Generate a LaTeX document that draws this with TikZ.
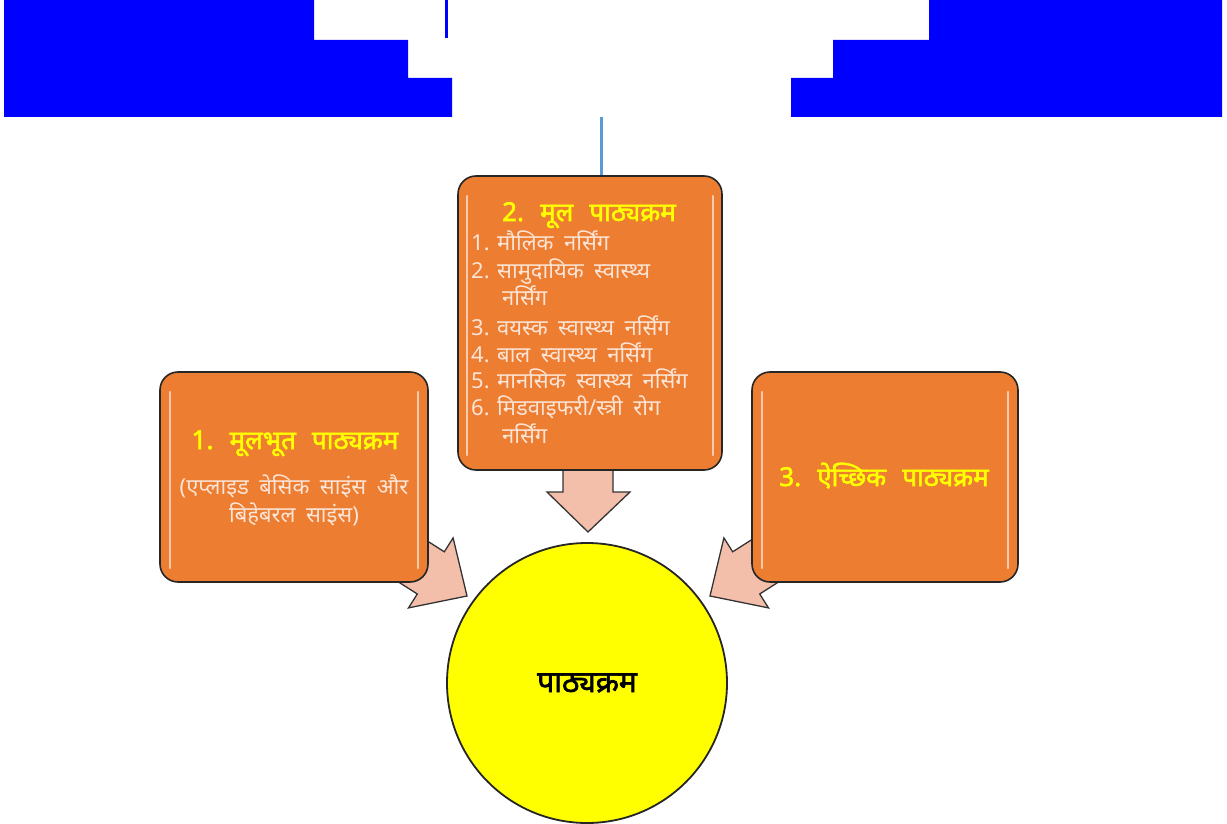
\documentclass[tikz,border=0pt]{standalone}
\usepackage{fontspec}
\newfontfamily\deva[Script=Devanagari, AutoFakeBold=2.2]{Noto Sans}
\newcommand\titlefnt{\deva\bfseries\fontsize{26}{30}\selectfont\spaceskip=0.62em plus 0.1em\relax}
\newcommand\bodyfnt{\deva\fontsize{22}{25}\selectfont\spaceskip=0.48em plus 0.1em\relax}
\definecolor{topblue}{HTML}{0000FF}
\definecolor{linkblue}{HTML}{5B9BD5}
\definecolor{boxorange}{HTML}{ED7D31}
\definecolor{arrowpink}{HTML}{F4BFAA}
\definecolor{bodytext}{HTML}{FCE4D6}
\definecolor{titleyellow}{HTML}{FFFF00}
\tikzset{
  box/.style={draw=black!85, line width=1.6pt, fill=boxorange, rounded corners=18pt, inner sep=0pt},
  hilite/.style={draw=white, line width=2.2pt, opacity=0.6, line cap=round},
  blockarrow/.style={draw=black!80, line width=1.3pt, fill=arrowpink, line join=miter},
  titletext/.style={text=titleyellow, font=\titlefnt, inner sep=0pt},
  bodystyle/.style={text=bodytext, font=\bodyfnt, inner sep=0pt},
}
\begin{document}
\begin{tikzpicture}[x=1pt,y=-1pt]
\useasboundingbox (0,0) rectangle (1227,824);
% top blue shapes
\fill[topblue] (4,0) -- (314,0) -- (314,40) -- (408,40) -- (408,78) -- (452,78) -- (452,117) -- (4,117) -- cycle;
\fill[topblue] (1222,0) -- (929,0) -- (929,40) -- (833,40) -- (833,78) -- (791,78) -- (791,117) -- (1222,117) -- cycle;
\fill[topblue] (445,0) rectangle (448,38);
% block arrows (under the boxes)
\draw[blockarrow] (563,455) -- (563,492) -- (547,492) -- (588,532) -- (630,492) -- (613,492) -- (613,455) -- cycle;
\draw[blockarrow] (366.7,561.7) -- (417.3,594.0) -- (408.5,607.9) -- (467,596) -- (453.1,537.9) -- (444.3,551.8) -- (393.7,519.5) -- cycle;
\draw[blockarrow] (810.3,561.7) -- (759.7,594.0) -- (768.5,607.9) -- (710,596) -- (723.9,537.9) -- (732.7,551.8) -- (783.3,519.5) -- cycle;
% boxes
\node[box, minimum width=264pt, minimum height=294pt] (mid) at (590,323) {};
\node[box, minimum width=268pt, minimum height=210pt] (left) at (294,477) {};
\node[box, minimum width=266pt, minimum height=210pt] (right) at (885,477) {};
% highlights
\draw[hilite] (467,196) -- (467,455);
\draw[hilite] (713,196) -- (713,455);
\draw[hilite] (170,392) -- (170,568);
\draw[hilite] (418,392) -- (418,568);
\draw[hilite] (762,392) -- (762,568);
\draw[hilite] (1008,392) -- (1008,568);
% circle
\node[circle, draw=black!85, line width=1.8pt, fill=titleyellow, minimum size=280pt, inner sep=0pt] (core) at (587,683) {};
% connector from top
\coordinate (topend) at (601,117);
\draw[linkblue, line width=3pt] (topend) -- (topend |- mid.north);
% texts: middle box
\node[titletext, anchor=base] (midtitle) at (589,221) {2.\ मूल पाठ्यक्रम};
\node[bodystyle, anchor=base west] (n1) at (471,250) {1.};
\node[bodystyle, anchor=base west] (t1) at (497,250) {मौलिक नर्सिंग};
\node[bodystyle, anchor=base west] (n2) at (471,278) {2.};
\node[bodystyle, anchor=base west] (t2) at (497,278) {सामुदायिक स्वास्थ्य};
\node[bodystyle, anchor=base west] (t2b) at (502,305) {नर्सिंग};
\node[bodystyle, anchor=base west] (n3) at (471,335) {3.};
\node[bodystyle, anchor=base west] (t3) at (497,335) {वयस्क स्वास्थ्य नर्सिंग};
\node[bodystyle, anchor=base west] (n4) at (471,362) {4.};
\node[bodystyle, anchor=base west] (t4) at (497,362) {बाल स्वास्थ्य नर्सिंग};
\node[bodystyle, anchor=base west] (n5) at (471,388) {5.};
\node[bodystyle, anchor=base west] (t5) at (497,388) {मानसिक स्वास्थ्य नर्सिंग};
\node[bodystyle, anchor=base west] (n6) at (471,415) {6.};
\node[bodystyle, anchor=base west] (t6) at (497,415) {मिडवाइफरी/स्त्री रोग};
\node[bodystyle, anchor=base west] (t6b) at (502,443) {नर्सिंग};
% left box
\node[titletext, anchor=base] (lefttitle) at (295,449) {1.\ मूलभूत पाठ्यक्रम};
\node[bodystyle, anchor=base] (leftsub1) at (294,494) {(एप्लाइड बेसिक साइंस और};
\node[bodystyle, anchor=base] (leftsub2) at (294,522) {बिहेबरल साइंस)};
% right box
\node[titletext, anchor=base] (righttitle) at (884,486) {3.\ ऐच्छिक पाठ्यक्रम};
% circle text
\node[font=\deva\bfseries\fontsize{30}{34}\selectfont, text=black, inner sep=0pt] (coretext) at (587,683) {पाठ्यक्रम};
\end{tikzpicture}
\end{document}
